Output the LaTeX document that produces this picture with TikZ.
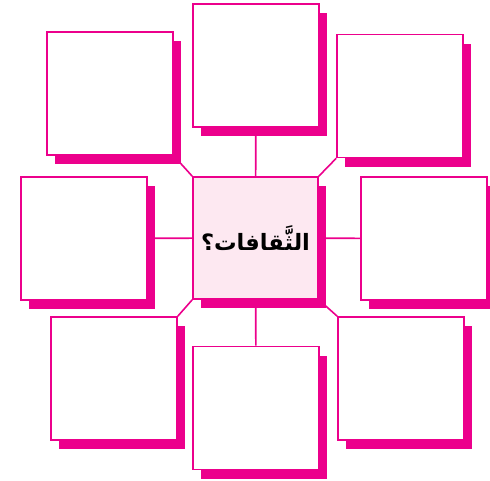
\documentclass[tikz,border=0pt]{standalone}
\usepackage{fontspec}
\usepackage{tikz}
\usetikzlibrary{positioning, shadows}
\newfontfamily\arabicfont[Script=Arabic]{DejaVu Sans}
\TeXXeTstate=1
\definecolor{mapPink}{HTML}{EC008C}
\definecolor{mapPale}{HTML}{FDE8F1}

\begin{document}
\begin{tikzpicture}[
        x=1pt, y=-1pt,
        % Estilos de las casillas
        cell/.style={
            rectangle,
            draw=mapPink,
            fill=white,
            line width=1.6pt,
            minimum width=126pt,
            minimum height=123pt,
            drop shadow={shadow xshift=8pt, shadow yshift=-9pt, fill=mapPink, opacity=1}
        },
        hub/.style={cell, fill=mapPale, minimum width=125pt, minimum height=122pt},
        % Estilo de los conectores
        link/.style={draw=mapPink, line width=1.6pt}
    ]
    \useasboundingbox (0,0) rectangle (490,480);

    % -- Casilla central --
    \node[hub] (cul) at (255.5,238) {\arabicfont\bfseries\fontsize{22.5}{27}\selectfont\beginR الثَّقافات؟\endR};

    % -- Casillas alrededor --
    \node[cell] (n)  at (256,65.5) {};
    \node[cell] (nw) at (110,93.5) {};
    \node[cell] (ne) at (400,96) {};
    \node[cell] (w)  at (84,238.5) {};
    \node[cell] (e)  at (424,238.5) {};
    \node[cell] (sw) at (114,378.5) {};
    \node[cell] (s)  at (256,408) {};
    \node[cell] (se) at (401,378.5) {};

    % -- Conectores --
    \draw[link] (n) -- (cul);
    \draw[link] (s) -- (cul);
    \draw[link] (w) -- (cul);
    \draw[link] (e) -- (cul);
    \draw[link] (nw.south east) -- (cul.north west);
    \draw[link] (ne.south west) -- (cul.north east);
    \draw[link] (sw.north east) -- (cul.south west);
    \draw[link] (se.north west) -- (cul.south east);

\end{tikzpicture}
\end{document}
